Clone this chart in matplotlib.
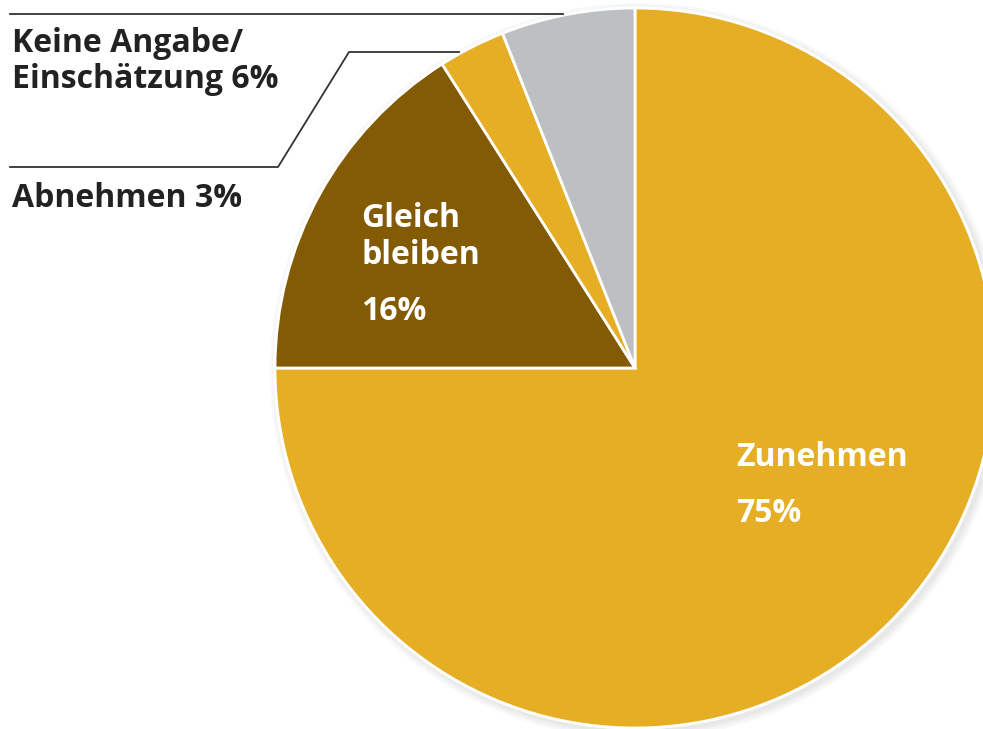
import matplotlib.pyplot as plt
from matplotlib.patches import Circle

W, H = 983, 729

# data
labels = ['Zunehmen', 'Gleich bleiben', 'Abnehmen', 'Keine Angabe/Einschätzung']
values = [75, 16, 3, 6]
colors = ['#E6AE24', '#845B05', '#E6AE24', '#BDC0C3']

FONT = 'Open Sans'


def fy(y):
    """pixel row from top -> data y"""
    return H - y


fig = plt.figure(figsize=(W / 100, H / 100), dpi=100)
ax = fig.add_axes([0, 0, 1, 1])

cx, cy, r = 635, fy(368), 360

# soft shadow around the pie
for i, a in enumerate([0.05, 0.05, 0.06, 0.07]):
    ax.add_patch(Circle((cx + 3, cy - 3), r + 8 - 2 * i, color='#9a9a9a', alpha=a, lw=0, zorder=0))
ax.add_patch(Circle((cx, cy), r + 1.5, color='white', lw=0, zorder=1))

ax.pie(values, colors=colors, startangle=90, counterclock=False,
       radius=r, center=(cx, cy), frame=True,
       wedgeprops=dict(edgecolor='white', linewidth=2, zorder=2))

ax.set_xlim(0, W)
ax.set_ylim(0, H)
ax.set_aspect('equal')
ax.axis('off')

# leader lines
ax.plot([10, 563], [fy(14), fy(14)], color='#333333', lw=1.3, zorder=3)
ax.plot([10, 278, 349, 459], [fy(167), fy(167), fy(52), fy(52)], color='#333333', lw=1.3, zorder=3)

dark = '#222222'
tkw = dict(fontfamily=FONT, fontweight='bold', fontsize=23, va='baseline', ha='left')
ax.text(12, fy(52), 'Keine Angabe/', color=dark, **tkw)
ax.text(12, fy(88), 'Einschätzung 6%', color=dark, **tkw)
ax.text(12, fy(207), 'Abnehmen 3%', color=dark, **tkw)

ax.text(361, fy(227), 'Gleich', color='white', **tkw)
ax.text(361, fy(264), 'bleiben', color='white', **tkw)
ax.text(361, fy(320), '16%', color='white', **tkw)

ax.text(736, fy(466), 'Zunehmen', color='white', **tkw)
ax.text(736, fy(522), '75%', color='white', **tkw)

fig.savefig('out.png', dpi=100, facecolor='white')
